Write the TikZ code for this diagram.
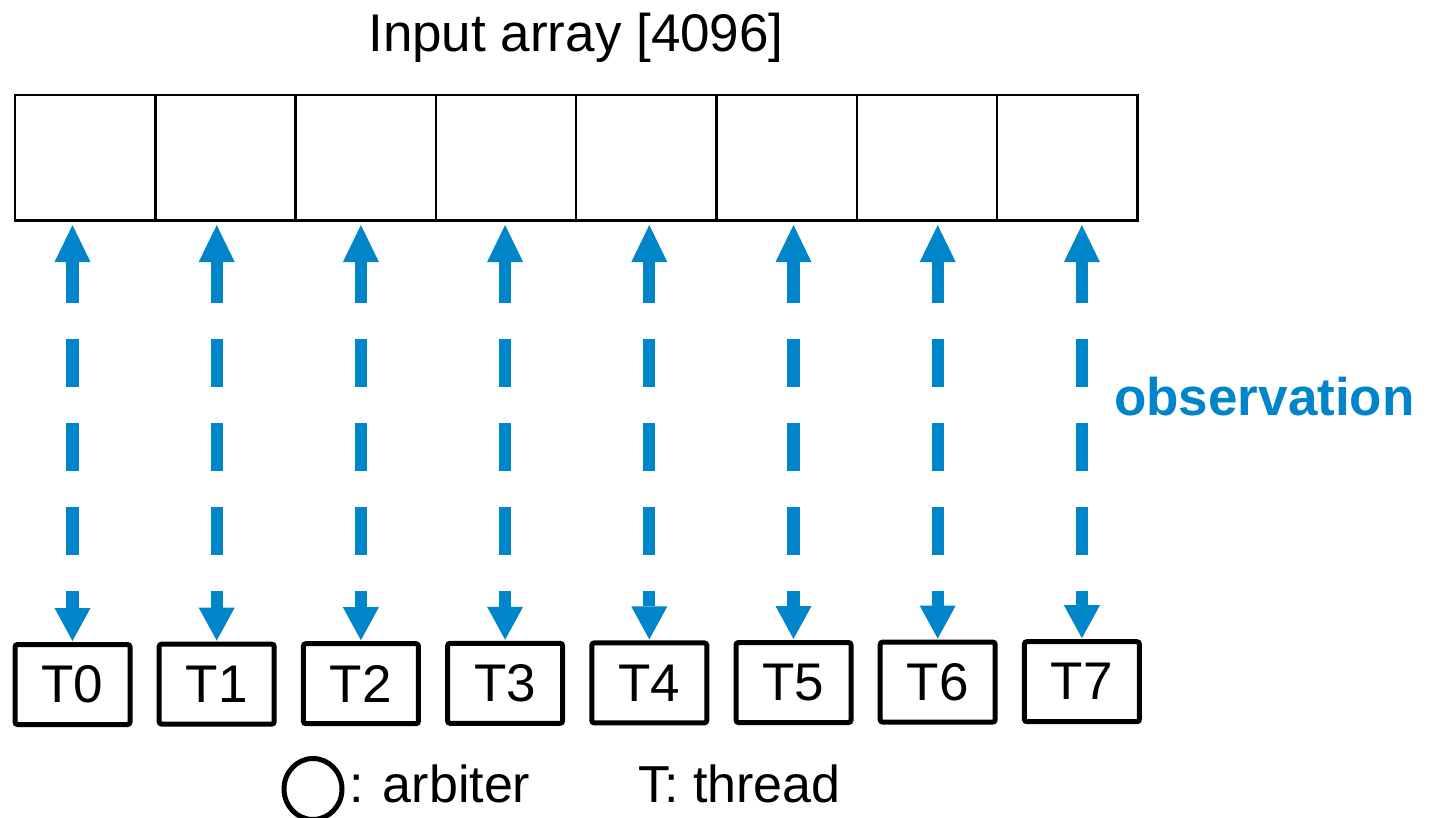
\documentclass[tikz,border=0pt]{standalone}
\usepackage{fontspec}
\setmainfont{Liberation Sans}
\usetikzlibrary{shapes.geometric}
\definecolor{obsblue}{RGB}{0,132,202}
\begin{document}
\begin{tikzpicture}[x=1pt,y=-1pt,
  cell/.style={draw, line width=2.5pt, minimum width=140.3pt, minimum height=125.7pt,
               inner sep=0pt, outer sep=0pt},
  thread/.style={draw, line width=5pt, rounded corners=2.5pt, minimum width=115pt,
                 minimum height=80pt, inner sep=0pt, outer sep=0pt,
                 font=\fontsize{53}{60}\selectfont},
  shaft/.style={obsblue, line width=12.3pt, line cap=butt,
                dash pattern=on 48pt off 36pt, dash phase=7pt},
  headtip/.style={fill=obsblue},
  bigtext/.style={inner sep=0pt, font=\fontsize{53}{60}\selectfont}]
\useasboundingbox (0,0) rectangle (1435,818);

% array title
\node[bigtext, anchor=base] (title) at (576,52) {Input array [4096]};

% the eight array cells
\foreach \i in {0,...,7} {
  \node[cell] (c\i) at ({15+140.3*(\i+0.5)},157.9) {};
}

% the eight threads
\foreach \i in {0,...,7} {
  \node[thread] (t\i) at ({72.5+144.2*\i},{684.5-0.4*\i}) {T\i};
}

% observation connectors: vertical dashed shaft above each thread,
% with a head at the array end and one at the thread end
\foreach \i in {0,...,7} {
  \coordinate (a\i) at (t\i.north |- c\i.south);
  \draw[shaft] ([yshift=-41pt]a\i) -- ([yshift=36.5pt]t\i.north);
  \fill[headtip] ([yshift=-4.3pt]a\i) -- ++(18,37) -- ++(-36,0) -- cycle;
  \fill[headtip] ([yshift=3.5pt]t\i.north) -- ++(18,-33) -- ++(-36,0) -- cycle;
}

\node[bigtext, anchor=base west, text=obsblue, font=\fontsize{53}{60}\selectfont\bfseries]
  (obs) at (1114,415) {observation};

% legend
\node[ellipse, draw, line width=5pt, minimum width=58pt, minimum height=61pt,
      inner sep=0pt, outer sep=0pt] (arb) at (313,789) {};
\node[bigtext, anchor=base west, font=\fontsize{52}{60}\selectfont] (arbtext) at (349,802) {: arbiter};
\node[bigtext, anchor=base west, font=\fontsize{52}{60}\selectfont] (thrtext) at (638,802) {T: thread};
\end{tikzpicture}
\end{document}
